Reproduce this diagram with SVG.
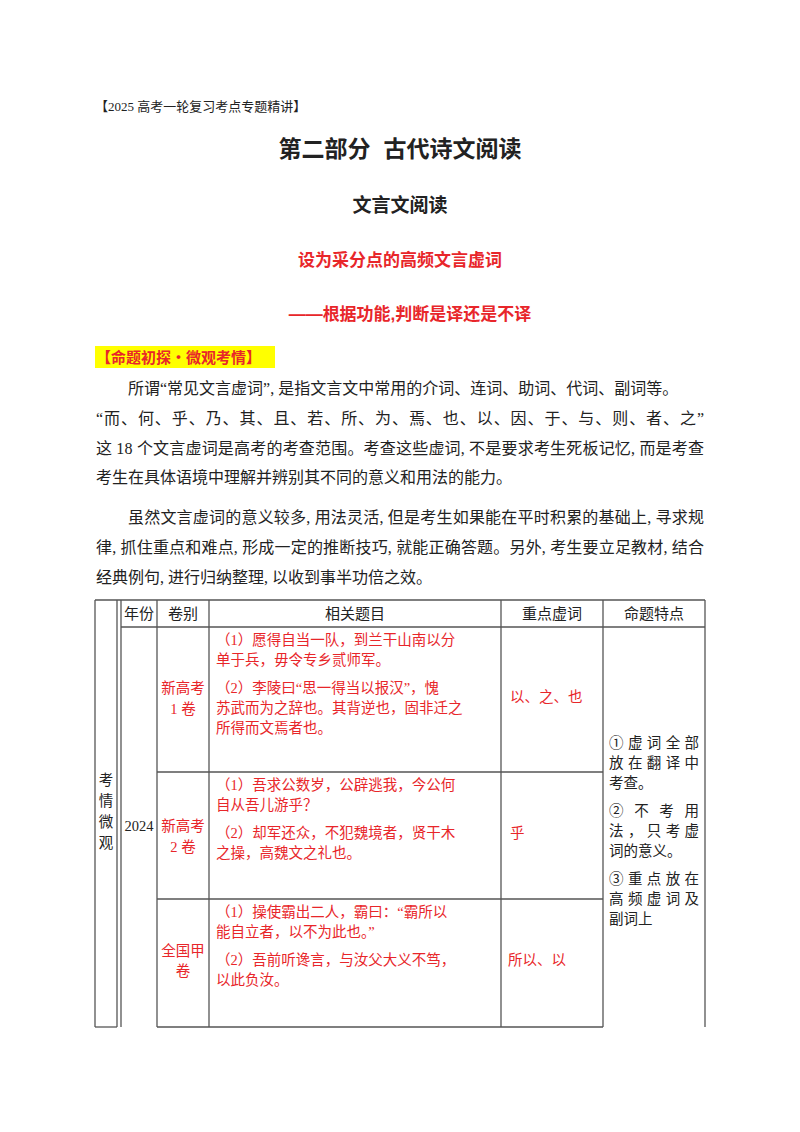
<svg xmlns="http://www.w3.org/2000/svg" width="800" height="1132" viewBox="0 0 800 1132">
<style>
text{font-family:"Liberation Serif","Noto Sans CJK SC",serif;fill:#222}
.h{font-weight:bold;font-family:"Liberation Sans","Noto Sans CJK SC",sans-serif;text-anchor:middle}
.r{fill:#e8262a}
.b{font-size:16px}
.t{font-size:14.5px}
.c{text-anchor:middle}
line{stroke:#555;stroke-width:1.3}
</style>
<rect width="800" height="1132" fill="#fff"/>
<text x="95" y="111" font-size="13">【2025 高考一轮复习考点专题精讲】</text>
<text x="400" y="157" class="h" font-size="23" xml:space="preserve">第二部分  古代诗文阅读</text>
<text x="400" y="212" class="h" font-size="19">文言文阅读</text>
<text x="400" y="266" class="h r" font-size="17">设为采分点的高频文言虚词</text>
<text x="410" y="320" class="h r" font-size="17">——根据功能,判断是译还是不译</text>
<rect x="95" y="346" width="180" height="22" fill="#ffff00"/>
<text x="96" y="363" class="h r" font-size="15" style="text-anchor:start">【命题初探・微观考情】</text>
<g class="b">
<text x="128" y="394">所谓“常见文言虚词”, 是指文言文中常用的介词、连词、助词、代词、副词等。</text>
<text x="96" y="424" textLength="608">“而、何、乎、乃、其、且、若、所、为、焉、也、以、因、于、与、则、者、之”</text>
<text x="96" y="454" textLength="608">这 18 个文言虚词是高考的考查范围。考查这些虚词, 不是要求考生死板记忆, 而是考查</text>
<text x="96" y="483">考生在具体语境中理解并辨别其不同的意义和用法的能力。</text>
<text x="128" y="523" textLength="576">虽然文言虚词的意义较多, 用法灵活, 但是考生如果能在平时积累的基础上, 寻求规</text>
<text x="96" y="553" textLength="608">律, 抓住重点和难点, 形成一定的推断技巧, 就能正确答题。另外, 考生要立足教材, 结合</text>
<text x="96" y="583">经典例句, 进行归纳整理, 以收到事半功倍之效。</text>
</g>
<g id="table">
<line x1="95" y1="600" x2="705" y2="600"/>
<line x1="121" y1="627" x2="603" y2="627"/>
<line x1="603" y1="627" x2="705" y2="627"/>
<line x1="157" y1="772" x2="603" y2="772"/>
<line x1="157" y1="899" x2="603" y2="899"/>
<line x1="95" y1="1027" x2="117" y2="1027"/>
<line x1="157" y1="1027" x2="603" y2="1027"/>
<line x1="95" y1="600" x2="95" y2="1027"/>
<line x1="117" y1="600" x2="117" y2="1027"/>
<line x1="121" y1="600" x2="121" y2="1027"/>
<line x1="157" y1="600" x2="157" y2="1027"/>
<line x1="209" y1="600" x2="209" y2="1027"/>
<line x1="501" y1="600" x2="501" y2="1027"/>
<line x1="603" y1="600" x2="603" y2="1027"/>
<line x1="705" y1="600" x2="705" y2="1027"/>
</g>
<g class="t">
<text x="139" y="619" class="c" font-size="15">年份</text>
<text x="183" y="619" class="c" font-size="15">卷别</text>
<text x="355" y="619" class="c" font-size="15">相关题目</text>
<text x="552" y="619" class="c" font-size="15">重点虚词</text>
<text x="654" y="619" class="c" font-size="15">命题特点</text>
<text x="106" y="785" class="c">考</text>
<text x="106" y="806" class="c">情</text>
<text x="106" y="827" class="c">微</text>
<text x="106" y="848" class="c">观</text>
<text x="139" y="831" class="c">2024</text>
<text x="183" y="693" class="c r">新高考</text>
<text x="183" y="714" class="c r">1 卷</text>
<text x="216" y="645" class="r">（1）愿得自当一队，到兰干山南以分</text>
<text x="216" y="665" class="r">单于兵，毋令专乡贰师军。</text>
<text x="216" y="693" class="r">（2）李陵曰“思一得当以报汉”，愧</text>
<text x="216" y="713" class="r">苏武而为之辞也。其背逆也，固非迁之</text>
<text x="216" y="733" class="r">所得而文焉者也。</text>
<text x="510" y="702" class="r">以、之、也</text>
<text x="183" y="831" class="c r">新高考</text>
<text x="183" y="852" class="c r">2 卷</text>
<text x="216" y="790" class="r">（1）吾求公数岁，公辟逃我，今公何</text>
<text x="216" y="810" class="r">自从吾儿游乎？</text>
<text x="216" y="838" class="r">（2）却军还众，不犯魏境者，贤干木</text>
<text x="216" y="858" class="r">之操，高魏文之礼也。</text>
<text x="510" y="838" class="r">乎</text>
<text x="183" y="956" class="c r">全国甲</text>
<text x="183" y="976" class="c r">卷</text>
<text x="216" y="917" class="r">（1）操使霸出二人，霸曰：“霸所以</text>
<text x="216" y="937" class="r">能自立者，以不为此也。”</text>
<text x="216" y="965" class="r">（2）吾前听谗言，与汝父大义不笃，</text>
<text x="216" y="985" class="r">以此负汝。</text>
<text x="508" y="965" class="r">所以、以</text>
<text x="609" y="748" textLength="90">①虚词全部</text>
<text x="609" y="768" textLength="90">放在翻译中</text>
<text x="609" y="788">考查。</text>
<text x="609" y="816" textLength="90">② 不 考 用</text>
<text x="609" y="836" textLength="90">法，只考虚</text>
<text x="609" y="856">词的意义。</text>
<text x="609" y="884" textLength="90">③重点放在</text>
<text x="609" y="904" textLength="90">高频虚词及</text>
<text x="609" y="924">副词上</text>
</g>
</svg>
